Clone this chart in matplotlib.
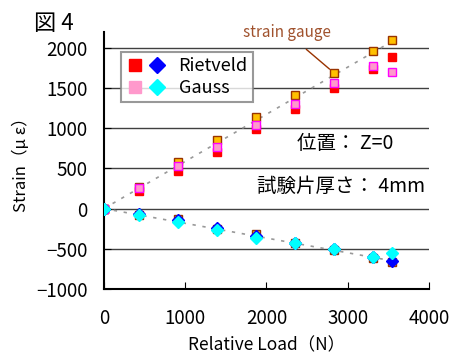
import matplotlib
matplotlib.use("Agg")
import matplotlib.pyplot as plt
from matplotlib.legend_handler import HandlerTuple
from matplotlib.lines import Line2D

plt.rcParams['font.family'] = ['Noto Sans CJK JP', 'DejaVu Sans']

# relative load (N)
load = [0, 430, 910, 1390, 1870, 2350, 2830, 3310, 3545]

# longitudinal strain (squares)
gauge_up = [0, 265, 575, 848, 1135, 1409, 1691, 1961, 2099]
riet_up = [0, 225, 470, 706, 995, 1234, 1496, 1733, 1890]
gauss_up = [0, 262, 536, 768, 1043, 1300, 1559, 1774, 1703]

# transverse strain (diamonds)
gauge_low = [0, -84, -133, -250, -312, -424, -516, -616, -666]
riet_low = [0, -70, -146, -237, -341, -430, -505, -600, -653]
gauss_low = [0, -75, -167, -262, -366, -433, -499, -603, -554]

# dotted trend lines
fit_x = [0, 3545]
fit_up = [0, 2080]
fit_low = [0, -650]

fig = plt.figure(figsize=(4.5, 3.58), dpi=100)
ax = fig.add_axes([0.231, 0.193, 0.722, 0.718])

ax.plot(fit_x, fit_up, color='#999999', ls=(0, (2, 4)), lw=1.2, zorder=2)
ax.plot(fit_x, fit_low, color='#999999', ls=(0, (2, 4)), lw=1.2, zorder=2)

sq = dict(marker='s', ms=6, ls='none', zorder=3)
dm = dict(marker='D', ms=6, ls='none', zorder=4)
ax.plot(load, riet_up, color='#FF0000', mec='#FF0000', **sq)
ax.plot(load, gauge_up, color='#FFC000', mec='#993300', mew=1, **sq)
ax.plot(load, gauge_low, color='#FFC000', mec='#993300', mew=1, **sq)
ax.plot(load, gauss_up, color='#FF99CC', mec='#FF00FF', mew=1, **sq)
ax.plot(load, riet_low, color='#0000FF', mec='#0000FF', **dm)
ax.plot(load, gauss_low, color='#00FFFF', mec='#00FFFF', **dm)

ax.set_xlim(0, 4000)
ax.set_ylim(-1000, 2200)
ax.set_xticks([0, 1000, 2000, 3000, 4000])
ax.set_yticks([-1000, -500, 0, 500, 1000, 1500, 2000])
for v in [-500, 0, 500, 1000, 1500, 2000]:
    ax.axhline(v, color='#404040', lw=1, zorder=1)

for s in ['top', 'right']:
    ax.spines[s].set_visible(False)
ax.spines['left'].set_linewidth(1.5)
ax.spines['bottom'].set_linewidth(1.5)
ax.tick_params(direction='in', length=5, labelsize=13.5)
ax.tick_params(axis='x', pad=14)
ax.tick_params(axis='y', pad=12)

ax.set_xlabel('Relative Load（N）', fontsize=12.5, labelpad=5)
ax.set_ylabel('Strain（μ ε）', fontsize=12, labelpad=4)

ax.annotate('strain gauge', xy=(2830, 1691), xytext=(2250, 2190),
            ha='center', va='center', color='#A0522D', fontsize=11,
            arrowprops=dict(arrowstyle='-', color='#993300', lw=1,
                            shrinkA=6, shrinkB=4),
            annotation_clip=False)

ax.text(2380, 814, '位置： Z=0', fontsize=14, va='center')
ax.text(1890, 278, '試験片厚さ： 4mm', fontsize=14, va='center')
fig.text(0.075, 0.935, '図 4', fontsize=16, va='center')

h_r = (Line2D([], [], marker='s', ms=9, ls='none', color='#FF0000'),
       Line2D([], [], marker='D', ms=8, ls='none', color='#0000FF'))
h_g = (Line2D([], [], marker='s', ms=9, ls='none', color='#FF99CC'),
       Line2D([], [], marker='D', ms=8, ls='none', color='#00FFFF'))
leg = ax.legend([h_r, h_g], ['Rietveld', 'Gauss'],
                handler_map={tuple: HandlerTuple(ndivide=None, pad=0.2)},
                loc='upper left', bbox_to_anchor=(0.052, 0.922),
                fontsize=13, frameon=True, fancybox=False,
                handlelength=2.2, handletextpad=0.7, borderpad=0.3,
                labelspacing=0.2, borderaxespad=0)
leg.get_frame().set_edgecolor('#808080')
leg.get_frame().set_linewidth(1.5)

fig.savefig('out.png', dpi=100)
